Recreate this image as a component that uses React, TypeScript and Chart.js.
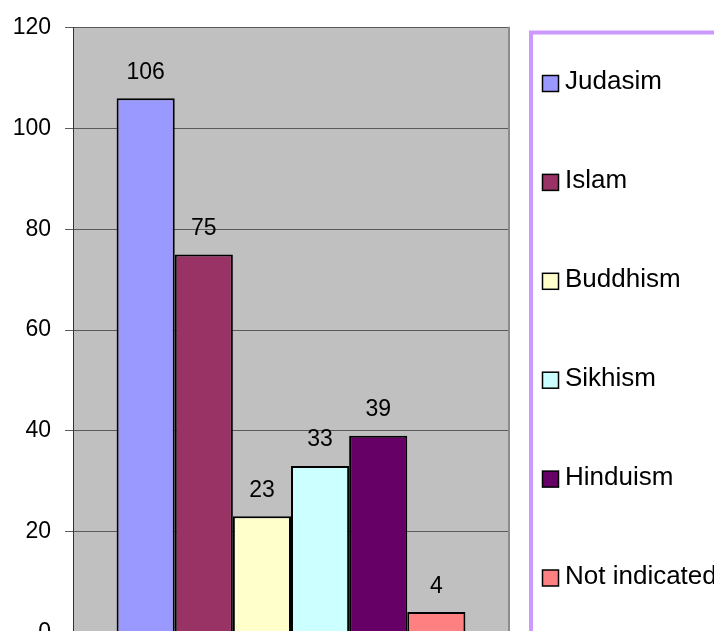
import React, { useEffect, useRef } from "react";
import { Chart, registerables } from "chart.js";

Chart.register(...registerables);

const categories = ["Judasim", "Islam", "Buddhism", "Sikhism", "Hinduism", "Not indicated"];
const values = [106, 75, 23, 33, 39, 4];
const colors = ["#9999FF", "#993366", "#FFFFCC", "#CCFFFF", "#660066", "#FF8080"];
const yMin = 0;
const yMax = 120;
const yStep = 20;

const FONT = "'Liberation Sans', Arial, sans-serif";

const plotBgPlugin = {
  id: "plotBg",
  beforeDraw(chart: any) {
    const { ctx, chartArea } = chart;
    ctx.save();
    ctx.fillStyle = "#C0C0C0";
    ctx.fillRect(chartArea.left, chartArea.top, chartArea.right - chartArea.left, chartArea.bottom - chartArea.top);
    ctx.restore();
  },
};

const overlayPlugin = {
  id: "overlay",
  afterDatasetsDraw(chart: any) {
    const { ctx, chartArea } = chart;
    ctx.save();
    // right border of plot area
    ctx.strokeStyle = "#8c8c8c";
    ctx.lineWidth = 2;
    ctx.beginPath();
    ctx.moveTo(chartArea.right, chartArea.top - 1);
    ctx.lineTo(chartArea.right, chartArea.bottom + 10);
    ctx.stroke();

    // data labels
    ctx.fillStyle = "#000";
    ctx.font = `23px ${FONT}`;
    ctx.textAlign = "center";
    ctx.textBaseline = "alphabetic";
    chart.data.datasets.forEach((ds: any, i: number) => {
      const meta = chart.getDatasetMeta(i);
      meta.data.forEach((bar: any, j: number) => {
        ctx.fillText(String(ds.data[j]), bar.x, bar.y - 19.5);
      });
    });

    // legend box
    ctx.strokeStyle = "#CC99FF";
    ctx.lineWidth = 4;
    ctx.strokeRect(531, 32.5, 300, 700);

    ctx.font = `26px ${FONT}`;
    ctx.textAlign = "left";
    chart.data.datasets.forEach((ds: any, i: number) => {
      const cy = 83.5 + i * 98.9;
      ctx.fillStyle = ds.backgroundColor;
      ctx.fillRect(542.5, cy - 8, 16, 16);
      ctx.strokeStyle = "#000";
      ctx.lineWidth = 1.5;
      ctx.strokeRect(542.5, cy - 8, 16, 16);
      ctx.fillStyle = "#000";
      ctx.fillText(ds.label, 565, cy + 5.5);
    });
    ctx.restore();
  },
};

export default function App() {
  const ref = useRef<HTMLCanvasElement | null>(null);

  useEffect(() => {
    if (!ref.current) return;
    const chart = new Chart(ref.current, {
      type: "bar",
      data: {
        labels: [""],
        datasets: categories.map((c, i) => ({
          label: c,
          data: [values[i]],
          backgroundColor: colors[i],
          borderColor: "#000",
          borderWidth: 2,
        })),
      },
      options: {
        responsive: false,
        animation: false,
        devicePixelRatio: 1,
        layout: { padding: { top: 25, right: 205, bottom: 27, left: 0 } },
        datasets: { bar: { categoryPercentage: 0.8, barPercentage: 1 } },
        scales: {
          x: { display: false, offset: true },
          y: {
            min: yMin,
            max: yMax,
            ticks: {
              stepSize: yStep,
              padding: 14,
              color: "#000",
              font: { family: FONT, size: 23 },
            },
            grid: { color: "#5a5a5a", lineWidth: 1, tickLength: 8, drawTicks: true },
            border: { display: true, color: "#333", width: 1 },
            afterFit: (scale: any) => {
              scale.width = 73;
            },
          },
        },
        plugins: {
          legend: { display: false },
          tooltip: { enabled: false },
        },
      },
      plugins: [plotBgPlugin, overlayPlugin],
    });
    return () => chart.destroy();
  }, []);

  return (
    <div style={{ position: "fixed", left: 0, top: 0, width: 714, height: 631, overflow: "hidden", background: "#fff" }}>
      <canvas ref={ref} width={714} height={660} style={{ display: "block" }} />
    </div>
  );
}
